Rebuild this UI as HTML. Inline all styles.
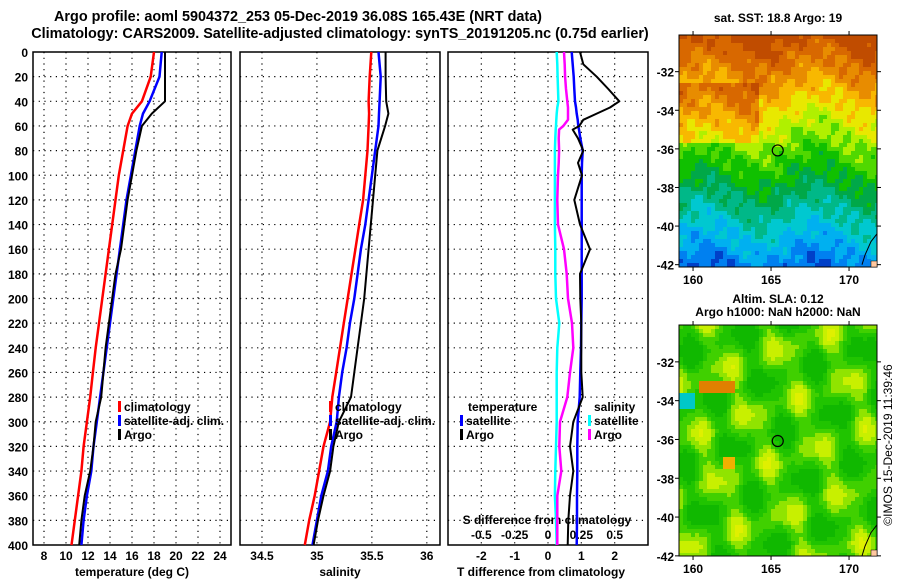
<!DOCTYPE html>
<html><head><meta charset="utf-8"><style>
body{margin:0;background:#fff;}
svg text{font-family:"Liberation Sans",sans-serif;font-weight:bold;fill:#000;}
</style></head><body>
<svg id="s" width="900" height="580" xmlns="http://www.w3.org/2000/svg">
<text x="298" y="21" font-size="14.4" text-anchor="middle">Argo profile: aoml 5904372_253 05-Dec-2019 36.08S 165.43E (NRT data)</text>
<text x="340" y="38" font-size="14.4" text-anchor="middle">Climatology: CARS2009. Satellite-adjusted climatology: synTS_20191205.nc (0.75d earlier)</text>
<text x="778" y="22" font-size="12" text-anchor="middle">sat. SST: 18.8 Argo: 19</text>
<text x="778" y="303" font-size="12" text-anchor="middle">Altim. SLA: 0.12</text>
<text x="778" y="316" font-size="12" text-anchor="middle">Argo h1000: NaN h2000: NaN</text>
<text x="0" y="0" font-size="12" transform="translate(892,445) rotate(-90)" text-anchor="middle" style="font-weight:normal">©IMOS 15-Dec-2019 11:39:46</text>
<g id="g"></g>
</svg>
<script>
const depths=[0,20,40,50,60,80,100,120,140,160,180,200,220,240,260,280,300,320,340,360,380,400];
const tClim=[18.0,17.7,16.9,16.0,15.6,15.2,14.8,14.5,14.2,13.9,13.6,13.3,13.0,12.7,12.45,12.2,11.9,11.6,11.4,11.1,10.8,10.5];
const tSat=[18.7,18.5,17.6,17.0,16.7,16.3,15.9,15.5,15.2,14.9,14.6,14.3,14.0,13.7,13.4,13.1,12.8,12.5,12.3,11.9,11.6,11.4];
const tArgo=[19.0,19.0,19.0,17.8,16.9,16.4,16.0,15.6,15.3,15.0,14.5,14.2,13.9,13.6,13.4,13.2,12.7,12.5,12.2,11.7,11.4,11.2];
const sClim=[35.495,35.48,35.47,35.475,35.47,35.46,35.44,35.42,35.385,35.35,35.315,35.28,35.245,35.21,35.175,35.14,35.12,35.06,35.02,34.98,34.93,34.89];
const sSat=[35.56,35.58,35.57,35.565,35.56,35.53,35.50,35.47,35.44,35.40,35.37,35.34,35.30,35.27,35.23,35.20,35.18,35.13,35.10,35.04,35.00,34.96];
const sArgo=[35.625,35.625,35.63,35.65,35.62,35.55,35.53,35.51,35.49,35.47,35.45,35.43,35.40,35.37,35.34,35.31,35.20,35.15,35.12,35.06,35.01,34.97];
const dDepths=[0,10,20,30,40,45,50,55,60,63,70,80,90,100,120,140,160,180,200,220,240,260,280,300,320,340,360,380,400];
const dTSat=[0.71,0.74,0.77,0.79,0.81,0.84,0.86,0.89,0.91,0.93,0.97,1.04,1.02,1.01,1.01,1.01,1.01,1.01,1.01,1.0,0.99,0.97,0.95,0.89,0.88,0.88,0.87,0.87,0.86];
const dTArgo=[0.96,1.06,1.46,1.81,2.14,1.86,1.46,1.06,0.94,0.74,0.9,1.06,0.9,1.02,0.79,0.96,1.26,0.96,0.97,1.0,1.0,1.0,1.04,0.76,0.66,0.76,0.66,0.61,0.59];
const dSSat=[0.065,0.07,0.072,0.075,0.078,0.07,0.065,0.062,0.06,0.058,0.055,0.052,0.052,0.052,0.052,0.052,0.055,0.055,0.06,0.085,0.07,0.065,0.065,0.065,0.06,0.055,0.052,0.06,0.065];
const dSArgo=[0.12,0.125,0.128,0.135,0.145,0.15,0.15,0.15,0.115,0.083,0.08,0.083,0.08,0.075,0.07,0.075,0.12,0.14,0.15,0.18,0.19,0.165,0.145,0.09,0.085,0.1,0.07,0.07,0.07];
const depthTicks=[0,20,40,60,80,100,120,140,160,180,200,220,240,260,280,300,320,340,360,380,400];
const tTicks=[8,10,12,14,16,18,20,22,24];
const sTicks=[34.5,35,35.5,36];
const dTicks=[-2,-1,0,1,2];
const dSTicks=[-0.5,-0.25,0,0.25,0.5];
const latTicks=[-32,-34,-36,-38,-40,-42];
const lonTicks=[160,165,170];

const NS='http://www.w3.org/2000/svg';
const G=document.getElementById('g');
function mk(tag,at,parent){const e=document.createElementNS(NS,tag);for(const k in at)e.setAttribute(k,at[k]);(parent||G).appendChild(e);return e;}
const top0=52,bot0=545;
const y=d=>top0+(d/400)*(bot0-top0);
const panels=[{x0:33,x1:231,lo:7,hi:25},{x0:240,x1:440,lo:34.3,hi:36.12},{x0:448,x1:648,lo:-3,hi:3}];
function sx(p,v){return p.x0+(v-p.lo)/(p.hi-p.lo)*(p.x1-p.x0);}
const sS=v=>sx(panels[2],v*4);

panels.forEach((p,i)=>{
  const f=mk('rect',{x:p.x0,y:top0,width:p.x1-p.x0,height:bot0-top0,fill:'#fff',stroke:'#000','stroke-width':1.5});
  
  
  depthTicks.forEach(d=>{if(d>0&&d<400){const l=mk('line',{x1:p.x0,x2:p.x1,y1:y(d),y2:y(d),stroke:'#000','stroke-dasharray':'1.2,4.5','stroke-width':1.2});
    }});
});
function vgrid(p,vals,f){vals.forEach(v=>{const X=f(v);const l=mk('line',{x1:X,x2:X,y1:top0,y2:bot0,stroke:'#000','stroke-dasharray':'1.2,4.5','stroke-width':1.2});
  });}
vgrid(panels[0],tTicks,v=>sx(panels[0],v));
vgrid(panels[1],sTicks,v=>sx(panels[1],v));
vgrid(panels[2],dTicks,v=>sx(panels[2],v));
depthTicks.forEach(d=>{const t=mk('text',{x:28,y:y(d)+5,'font-size':12,'text-anchor':'end'});t.textContent=d;
  });
function xlab(vals,f,yy,name){vals.forEach(v=>{const t=mk('text',{x:f(v),y:yy,'font-size':12,'text-anchor':'middle'});t.textContent=v;
  });}
xlab(tTicks,v=>sx(panels[0],v),560,'temperature-tick-label');
xlab(sTicks,v=>sx(panels[1],v),560,'salinity-tick-label');
xlab(dTicks,v=>sx(panels[2],v),560,'t-diff-tick-label');
xlab(dSTicks,sS,539,'s-diff-tick-label');
[['temperature (deg C)',132,'temperature-axis-title'],['salinity',340,'salinity-axis-title'],['T difference from climatology',541,'t-diff-axis-title']].forEach(a=>{
  const t=mk('text',{x:a[1],y:576,'font-size':12,'text-anchor':'middle'});t.textContent=a[0];
  });
const st=mk('text',{x:547,y:524,'font-size':12,'text-anchor':'middle'});st.textContent='S difference from climatology';


function line(vals,ds,f,col,w,name){const pts=vals.map((v,i)=>f(v).toFixed(1)+','+y(ds[i]).toFixed(1)).join(' ');
  const l=mk('polyline',{points:pts,fill:'none',stroke:col,'stroke-width':w,'stroke-linejoin':'round'});
  }
const fT=v=>sx(panels[0],v),fS=v=>sx(panels[1],v),fD=v=>sx(panels[2],v);
line(tClim,depths,fT,'#f00',2.5,'temp-climatology-line');
line(tSat,depths,fT,'#00f',2.5,'temp-satellite-line');
line(tArgo,depths,fT,'#000',2,'temp-argo-line');
line(sClim,depths,fS,'#f00',2.5,'sal-climatology-line');
line(sSat,depths,fS,'#00f',2.5,'sal-satellite-line');
line(sArgo,depths,fS,'#000',2,'sal-argo-line');
line(dSSat,dDepths,sS,'#0ff',2.5,'s-diff-satellite-line');
line(dSArgo,dDepths,sS,'#f0f',2.5,'s-diff-argo-line');
line(dTSat,dDepths,fD,'#00f',2.5,'t-diff-satellite-line');
line(dTArgo,dDepths,fD,'#000',2,'t-diff-argo-line');

function leg(x,yy,col,label,name){const r=mk('rect',{x:x,y:yy-10,width:3,height:11,fill:col});
  
  if(label){const t=mk('text',{x:x+6,y:yy,'font-size':12});t.textContent=label;
  }}
leg(118,411,'#f00','climatology','legend-temp-climatology');
leg(118,425,'#00f','satellite-adj. clim.','legend-temp-satellite');
leg(118,439,'#000','Argo','legend-temp-argo');
leg(329,411,'#f00','climatology','legend-sal-climatology');
leg(329,425,'#00f','satellite-adj. clim.','legend-sal-satellite');
leg(329,439,'#000','Argo','legend-sal-argo');
const t1=mk('text',{x:468,y:411,'font-size':12});t1.textContent='temperature';
const t2=mk('text',{x:594,y:411,'font-size':12});t2.textContent='salinity';
leg(460,425,'#00f','satellite','legend-tdiff-satellite');
leg(460,439,'#000','Argo','legend-tdiff-argo');
leg(588,425,'#0ff','satellite','legend-sdiff-satellite');
leg(588,439,'#f0f','Argo','legend-sdiff-argo');

// maps
const sstPal=['#c04c00','#d86800','#e88c00','#f8b800','#e8e800','#b0f000','#50d800','#10c000','#00a848','#00b888','#00c8d0','#00b0f0','#0080f0','#0040c8','#0010a0'];
const slaPal=['#10b800','#20c400','#40d000','#90e400','#c8f000','#e0f000','#e08000','#00b070','#00c8c8','#f0b000'];
function drawMap(y0,h,kind,name){
  const x0=679,x1=877,cs=4;
  const grp=mk('g',{});
  for(let yy=y0;yy<y0+h;yy+=cs){for(let xx=x0;xx<x1;xx+=cs){
    const lon=159.1+(xx-x0)/15.6, lat=-30.1-(yy-y0)/((kind==0)?19.3:19.4);
    let c;
    if(kind==0){
      let v=(-30.1-lat)*1.02+0.5*Math.sin(lon*2.1+lat*3.3)+0.4*Math.sin(lon*5.3-lat*4.1)+0.6*Math.sin((lon-159)*0.9);
      if(lat>-35.5&&lat<-32.5&&lon<164) v-=1.8;
      v=Math.max(0,Math.min(14,Math.round(v)));c=sstPal[v];
    } else {
      let v=1.7+1.4*Math.sin(lon*1.7+lat*0.9)+1.2*Math.sin(lat*2.2-lon*0.6)+0.6*Math.sin(lon*3.1);
      let i=Math.max(0,Math.min(5,Math.round(v)));
      if(lon<162.5&&lon>160.3&&lat>-33.6&&lat<-32.9) i=6;
      if(lon<160&&lat>-34.4&&lat<-33.6) i=8;
      if(lon>161.7&&lon<162.5&&lat<-36.7&&lat>-37.4) i=9;
      c=slaPal[i];
    }
    mk('rect',{x:xx,y:yy,width:Math.min(cs,x1-xx),height:Math.min(cs,y0+h-yy),fill:c},grp);
  }}
  const fr=mk('rect',{x:x0,y:y0,width:x1-x0,height:h,fill:'none',stroke:'#000','stroke-width':1});
  
  const py=lat=>y0+(-30.1-lat)*((kind==0)?19.3:19.4);
  const px=lon=>x0+(lon-159.1)*15.6;
  const cst=mk('path',{d:`M${x1},${py(-40.4)} L${x1-6},${py(-40.8)} L${x1-12},${py(-41.5)} L${x1-15},${py(-42)}`,fill:'none',stroke:'#000','stroke-width':1});
  
  mk('rect',{x:x1-6,y:y0+h-6,width:6,height:6,fill:'#ffc8a0',stroke:'#000','stroke-width':0.5});
  const c=mk('circle',{cx:px(165.43),cy:py(-36.08),r:5.5,fill:'none',stroke:'#000','stroke-width':1.2});
  
  latTicks.forEach(l=>{const t=mk('text',{x:674,y:py(l)+5,'font-size':12,'text-anchor':'end'});t.textContent=l;
    
    mk('line',{x1:x1,x2:x1+4,y1:py(l),y2:py(l),stroke:'#000'});mk('line',{x1:x0-4,x2:x0,y1:py(l),y2:py(l),stroke:'#000'});});
  lonTicks.forEach(l=>{const t=mk('text',{x:px(l),y:y0+h+17,'font-size':12,'text-anchor':'middle'});t.textContent=l;
    
    mk('line',{x1:px(l),x2:px(l),y1:y0+h,y2:y0+h+4,stroke:'#000'});mk('line',{x1:px(l),x2:px(l),y1:y0-4,y2:y0,stroke:'#000'});});
}
drawMap(35,232,0,'sst-map');
drawMap(325,231,1,'sla-map');
</script>
</body></html>
